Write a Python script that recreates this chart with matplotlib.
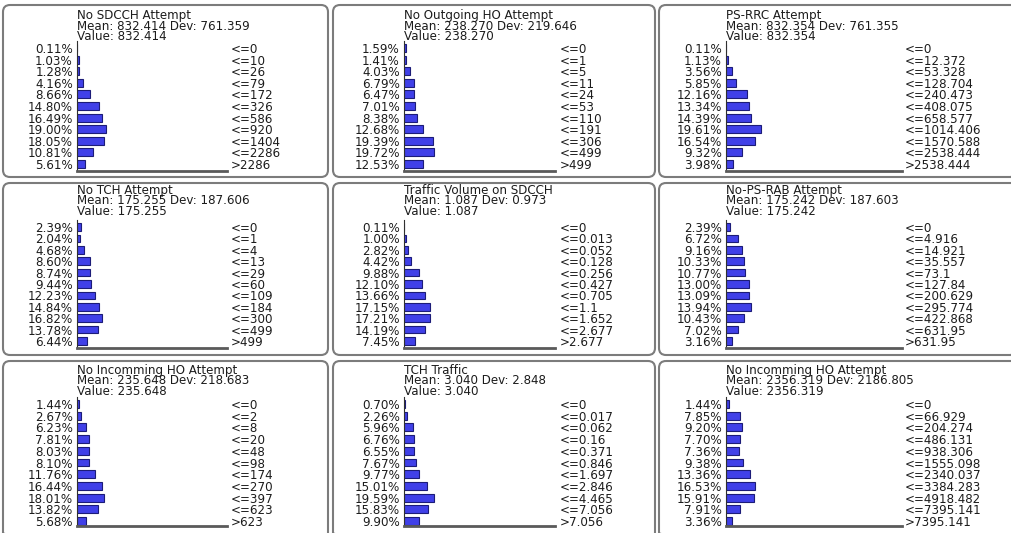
import matplotlib
matplotlib.use("Agg")
import matplotlib.pyplot as plt
from matplotlib.patches import FancyBboxPatch

# ---------------- data ----------------
titles = ["No SDCCH Attempt", "No Outgoing HO Attempt", "PS-RRC Attempt",
          "No TCH Attempt", "Traffic Volume on SDCCH", "No-PS-RAB Attempt",
          "No Incomming HO Attempt", "TCH Traffic", "No Incomming HO Attempt"]
means = ["832.414", "238.270", "832.354",
         "175.255", "1.087", "175.242",
         "235.648", "3.040", "2356.319"]
devs = ["761.359", "219.646", "761.355",
        "187.606", "0.973", "187.603",
        "218.683", "2.848", "2186.805"]
values = means[:]  # "Value:" equals the mean in every panel

pct_sdcch = [0.11, 1.03, 1.28, 4.16, 8.66, 14.80, 16.49, 19.00, 18.05, 10.81, 5.61]
bins_sdcch = ["<=0", "<=10", "<=26", "<=79", "<=172", "<=326", "<=586", "<=920", "<=1404", "<=2286", ">2286"]

pct_out_ho = [1.59, 1.41, 4.03, 6.79, 6.47, 7.01, 8.38, 12.68, 19.39, 19.72, 12.53]
bins_out_ho = ["<=0", "<=1", "<=5", "<=11", "<=24", "<=53", "<=110", "<=191", "<=306", "<=499", ">499"]

pct_ps_rrc = [0.11, 1.13, 3.56, 5.85, 12.16, 13.34, 14.39, 19.61, 16.54, 9.32, 3.98]
bins_ps_rrc = ["<=0", "<=12.372", "<=53.328", "<=128.704", "<=240.473", "<=408.075", "<=658.577",
               "<=1014.406", "<=1570.588", "<=2538.444", ">2538.444"]

pct_tch = [2.39, 2.04, 4.68, 8.60, 8.74, 9.44, 12.23, 14.84, 16.82, 13.78, 6.44]
bins_tch = ["<=0", "<=1", "<=4", "<=13", "<=29", "<=60", "<=109", "<=184", "<=300", "<=499", ">499"]

pct_tv_sdcch = [0.11, 1.00, 2.82, 4.42, 9.88, 12.10, 13.66, 17.15, 17.21, 14.19, 7.45]
bins_tv_sdcch = ["<=0", "<=0.013", "<=0.052", "<=0.128", "<=0.256", "<=0.427", "<=0.705",
                 "<=1.1", "<=1.652", "<=2.677", ">2.677"]

pct_ps_rab = [2.39, 6.72, 9.16, 10.33, 10.77, 13.00, 13.09, 13.94, 10.43, 7.02, 3.16]
bins_ps_rab = ["<=0", "<=4.916", "<=14.921", "<=35.557", "<=73.1", "<=127.84", "<=200.629",
               "<=295.774", "<=422.868", "<=631.95", ">631.95"]

pct_in_ho = [1.44, 2.67, 6.23, 7.81, 8.03, 8.10, 11.76, 16.44, 18.01, 13.82, 5.68]
bins_in_ho = ["<=0", "<=2", "<=8", "<=20", "<=48", "<=98", "<=174", "<=270", "<=397", "<=623", ">623"]

pct_tch_traffic = [0.70, 2.26, 5.96, 6.76, 6.55, 7.67, 9.77, 15.01, 19.59, 15.83, 9.90]
bins_tch_traffic = ["<=0", "<=0.017", "<=0.062", "<=0.16", "<=0.371", "<=0.846", "<=1.697",
                    "<=2.846", "<=4.465", "<=7.056", ">7.056"]

pct_in_ho2 = [1.44, 7.85, 9.20, 7.70, 7.36, 9.38, 13.36, 16.53, 15.91, 7.91, 3.36]
bins_in_ho2 = ["<=0", "<=66.929", "<=204.274", "<=486.131", "<=938.306", "<=1555.098",
               "<=2340.037", "<=3384.283", "<=4918.482", "<=7395.141", ">7395.141"]

panel_pcts = [pct_sdcch, pct_out_ho, pct_ps_rrc, pct_tch, pct_tv_sdcch, pct_ps_rab,
              pct_in_ho, pct_tch_traffic, pct_in_ho2]
panel_bins = [bins_sdcch, bins_out_ho, bins_ps_rrc, bins_tch, bins_tv_sdcch, bins_ps_rab,
              bins_in_ho, bins_tch_traffic, bins_in_ho2]

# ---------------- layout (pixels) ----------------
W, H = 1011, 533
FONT = "DejaVu Sans"
FS = 8.6
TXT = "#1c1c1c"

# columns: border left, border right, axis left, axis right, right-label x
cols = [(3, 328, 77, 227, 231),
        (333, 655, 404, 555, 560),
        (659, 1018, 726, 902, 905)]
# rows: border top, border bottom, title first line y, first bar y, last bar y, baseline y
rows = [(5, 177, 16, 48, 164, 171),
        (183, 355, 191, 227, 341, 348),
        (361, 540, 371, 404, 521, 526)]

fig = plt.figure(figsize=(W / 100, H / 100), dpi=100)
fig.patch.set_facecolor("white")

# overlay axes in pixel coordinates for borders and titles
ov = fig.add_axes([0, 0, 1, 1], zorder=-1)
ov.set_xlim(0, W)
ov.set_ylim(H, 0)
ov.axis("off")

for r, (bt, bb, ty, fy, ly, base) in enumerate(rows):
    for c, (bl, br, axl, axr, rlx) in enumerate(cols):
        k = r * 3 + c
        pcts = panel_pcts[k]
        bins = panel_bins[k]
        n = len(pcts)

        # rounded border
        ov.add_patch(FancyBboxPatch((bl, bt), br - bl, bb - bt,
                                    boxstyle="round,pad=0,rounding_size=7",
                                    fc="none", ec="#7c7c7c", lw=1.5))
        # title block (one text, three tight lines)
        block = "\n".join([titles[k], f"Mean: {means[k]} Dev: {devs[k]}", f"Value: {values[k]}"])
        ov.text(axl, ty + 10.0, block, fontsize=FS, family=FONT, color=TXT,
                ha="left", va="center", linespacing=0.72)

        # histogram axes
        sp = (ly - fy) / (n - 1)
        top = fy - 0.6 * sp
        ax = fig.add_axes([axl / W, 1 - base / H, (axr - axl) / W, (base - top) / H])
        y = list(range(n))
        ax.barh(y, pcts, height=0.68, color="#4040e8", edgecolor="#1c1c78", lw=0.8)
        ax.set_xlim(0, 100)
        ax.set_ylim((n - 1) + (base - ly) / sp, -0.6)
        ax.set_facecolor("none")
        ax.set_xticks([])
        ax.set_yticks(y, labels=[f"{v:.2f}%" for v in pcts])
        ax.tick_params(axis="y", length=0, pad=3.0, labelsize=FS, labelcolor=TXT)
        for lab in ax.get_yticklabels():
            lab.set_family(FONT)
        for s in ("top", "right"):
            ax.spines[s].set_visible(False)
        ax.spines["left"].set_color("#303030")
        ax.spines["left"].set_linewidth(0.8)
        ax.spines["bottom"].set_color("#5a5a5a")
        ax.spines["bottom"].set_linewidth(2.0)

        ax2 = ax.twinx()
        ax2.set_ylim(ax.get_ylim())
        ax2.set_yticks(y, labels=bins)
        ax2.tick_params(axis="y", length=0, pad=(rlx - axr) * 0.72, labelsize=FS, labelcolor=TXT)
        for lab in ax2.get_yticklabels():
            lab.set_family(FONT)
        for s in ax2.spines.values():
            s.set_visible(False)

fig.savefig("out.png", dpi=100, facecolor="white")
